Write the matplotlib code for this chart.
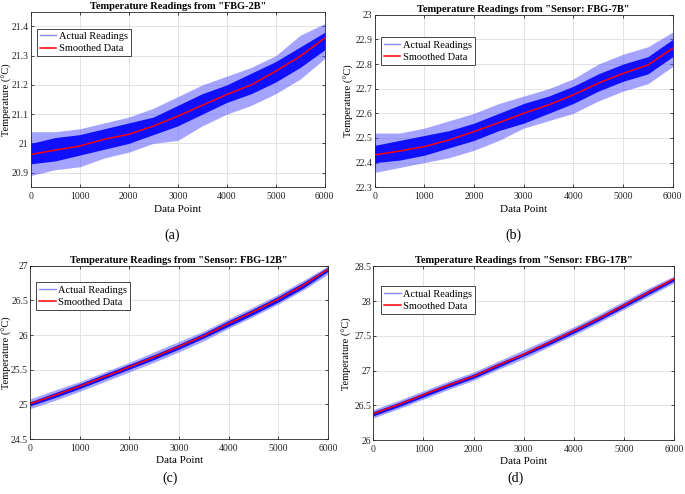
import matplotlib
matplotlib.use("Agg")
import matplotlib.pyplot as plt
from matplotlib.lines import Line2D

x_pts = [0, 500, 1000, 1500, 2000, 2500, 3000, 3500, 4000, 4500, 5000, 5500, 6000]

# panel (a) FBG-2B
a_smooth = [20.962, 20.977, 20.991, 21.014, 21.031, 21.059, 21.093, 21.130, 21.167, 21.200, 21.247, 21.298, 21.360]
a_hi = [21.04, 21.04, 21.05, 21.07, 21.09, 21.12, 21.16, 21.20, 21.23, 21.26, 21.30, 21.37, 21.41]
a_lo = [20.89, 20.91, 20.92, 20.95, 20.97, 21.00, 21.01, 21.06, 21.10, 21.13, 21.17, 21.22, 21.29]
a_core_hi = [21.00, 21.02, 21.03, 21.05, 21.07, 21.09, 21.13, 21.17, 21.20, 21.24, 21.28, 21.33, 21.38]
a_core_lo = [20.93, 20.94, 20.96, 20.98, 21.00, 21.03, 21.06, 21.10, 21.14, 21.17, 21.21, 21.26, 21.32]

# panel (b) FBG-7B
b_smooth = [22.431, 22.447, 22.465, 22.492, 22.526, 22.562, 22.600, 22.634, 22.675, 22.722, 22.762, 22.796, 22.864]
b_hi = [22.52, 22.52, 22.54, 22.57, 22.60, 22.64, 22.67, 22.70, 22.74, 22.80, 22.84, 22.87, 22.93]
b_lo = [22.36, 22.38, 22.40, 22.42, 22.45, 22.49, 22.54, 22.57, 22.60, 22.65, 22.69, 22.72, 22.79]
b_core_hi = [22.47, 22.49, 22.51, 22.53, 22.56, 22.60, 22.64, 22.67, 22.71, 22.76, 22.80, 22.83, 22.90]
b_core_lo = [22.40, 22.41, 22.43, 22.46, 22.49, 22.53, 22.56, 22.60, 22.64, 22.69, 22.73, 22.76, 22.83]

# panel (c) FBG-12B
c_smooth = [25.01, 25.134, 25.263, 25.40, 25.54, 25.684, 25.837, 25.99, 26.17, 26.34, 26.52, 26.72, 26.95]
c_hi = [25.08, 25.21, 25.33, 25.47, 25.61, 25.76, 25.91, 26.06, 26.24, 26.41, 26.59, 26.79, 27.00]
c_lo = [24.94, 25.06, 25.19, 25.33, 25.47, 25.61, 25.76, 25.92, 26.10, 26.27, 26.45, 26.65, 26.88]
c_core_hi = [25.04, 25.17, 25.30, 25.44, 25.58, 25.72, 25.87, 26.03, 26.21, 26.38, 26.56, 26.76, 26.98]
c_core_lo = [24.98, 25.10, 25.23, 25.37, 25.51, 25.65, 25.80, 25.96, 26.13, 26.30, 26.48, 26.68, 26.92]

# panel (d) FBG-17B
d_smooth = [26.38, 26.51, 26.653, 26.79, 26.918, 27.08, 27.234, 27.40, 27.57, 27.75, 27.94, 28.13, 28.32]
d_hi = [26.44, 26.57, 26.71, 26.85, 26.98, 27.14, 27.30, 27.46, 27.63, 27.81, 28.00, 28.19, 28.36]
d_lo = [26.32, 26.45, 26.59, 26.73, 26.86, 27.02, 27.17, 27.34, 27.51, 27.69, 27.88, 28.07, 28.26]
d_core_hi = [26.41, 26.54, 26.68, 26.82, 26.95, 27.11, 27.26, 27.43, 27.60, 27.78, 27.97, 28.16, 28.34]
d_core_lo = [26.35, 26.48, 26.62, 26.76, 26.89, 27.05, 27.21, 27.37, 27.54, 27.72, 27.91, 28.10, 28.29]

titles = ['Temperature Readings from "FBG-2B"',
          'Temperature Readings from "Sensor: FBG-7B"',
          'Temperature Readings from "Sensor: FBG-12B"',
          'Temperature Readings from "Sensor: FBG-17B"']
panel_tags = ['(a)', '(b)', '(c)', '(d)']
ylims = [(20.85, 21.45), (22.3, 23.0), (24.5, 27.0), (26.0, 28.5)]
yticks = [[20.9, 21.0, 21.1, 21.2, 21.3, 21.4],
          [22.3, 22.4, 22.5, 22.6, 22.7, 22.8, 22.9, 23.0],
          [24.5, 25.0, 25.5, 26.0, 26.5, 27.0],
          [26.0, 26.5, 27.0, 27.5, 28.0, 28.5]]
xticks = [0, 1000, 2000, 3000, 4000, 5000, 6000]

plt.rcParams['font.family'] = ['Liberation Serif', 'DejaVu Serif']

fig = plt.figure(figsize=(6.85, 4.94), dpi=100)

# axes boxes [left, bottom, width, height]
boxes = [[0.045, 0.621, 0.429, 0.355],
         [0.547, 0.621, 0.435, 0.349],
         [0.044, 0.111, 0.435, 0.351],
         [0.545, 0.109, 0.439, 0.352]]
legend_anchor = [(0.02, 0.905), (0.02, 0.87), (0.02, 0.905), (0.025, 0.885)]
ylabel_x = [-0.063, -0.07, -0.06, -0.072]
tag_pos = [(0.251, 0.524), (0.749, 0.524), (0.248, 0.032), (0.752, 0.032)]

data = [(a_smooth, a_lo, a_hi, a_core_lo, a_core_hi),
        (b_smooth, b_lo, b_hi, b_core_lo, b_core_hi),
        (c_smooth, c_lo, c_hi, c_core_lo, c_core_hi),
        (d_smooth, d_lo, d_hi, d_core_lo, d_core_hi)]

for i in range(4):
    ax = fig.add_axes(boxes[i])
    smooth, lo, hi, core_lo, core_hi = data[i]

    # actual readings: noisy band (outer spikes lighter, dense core darker)
    ax.fill_between(x_pts, lo, hi, color='#5a5aff', alpha=0.55, lw=0)
    ax.fill_between(x_pts, core_lo, core_hi, color='#0000ff', alpha=0.9, lw=0)
    # smoothed data
    ax.plot(x_pts, smooth, color='red', lw=1.1)

    ax.set_xlim(0, 6000)
    ax.set_ylim(*ylims[i])
    ax.set_xticks(xticks)
    ax.set_yticks(yticks[i])
    ax.set_yticklabels(['%g' % v for v in yticks[i]])
    ax.grid(True, color='#e3e3e3', lw=0.7)
    ax.set_axisbelow(True)
    ax.tick_params(direction='in', length=2.5, width=0.6, labelsize=7,
                   top=True, right=True, colors='#262626', pad=3.5)
    ax.tick_params(axis='y', pad=1.5)
    for s in ax.spines.values():
        s.set_color('#262626')
        s.set_linewidth(0.6)

    ax.set_title(titles[i], fontsize=7.5, fontweight='bold', pad=2)
    ax.set_xlabel('Data Point', fontsize=8, labelpad=2.5)
    ax.set_ylabel('Temperature (°C)', fontsize=7.5)
    ax.yaxis.set_label_coords(ylabel_x[i], 0.5)

    handles = [Line2D([], [], color='#8a8aff', lw=1.0),
               Line2D([], [], color='red', lw=1.1)]
    leg = ax.legend(handles, ['Actual Readings', 'Smoothed Data'],
                    loc='upper left', bbox_to_anchor=legend_anchor[i],
                    fontsize=7.5, fancybox=False, framealpha=1,
                    edgecolor='#262626', borderpad=0.3, labelspacing=0.3,
                    handlelength=1.6, handletextpad=0.2, borderaxespad=0)
    leg.get_frame().set_linewidth(0.6)

    fig.text(tag_pos[i][0], tag_pos[i][1], panel_tags[i], ha='center',
             va='center', fontsize=10)

fig.savefig('out.png', dpi=100)
